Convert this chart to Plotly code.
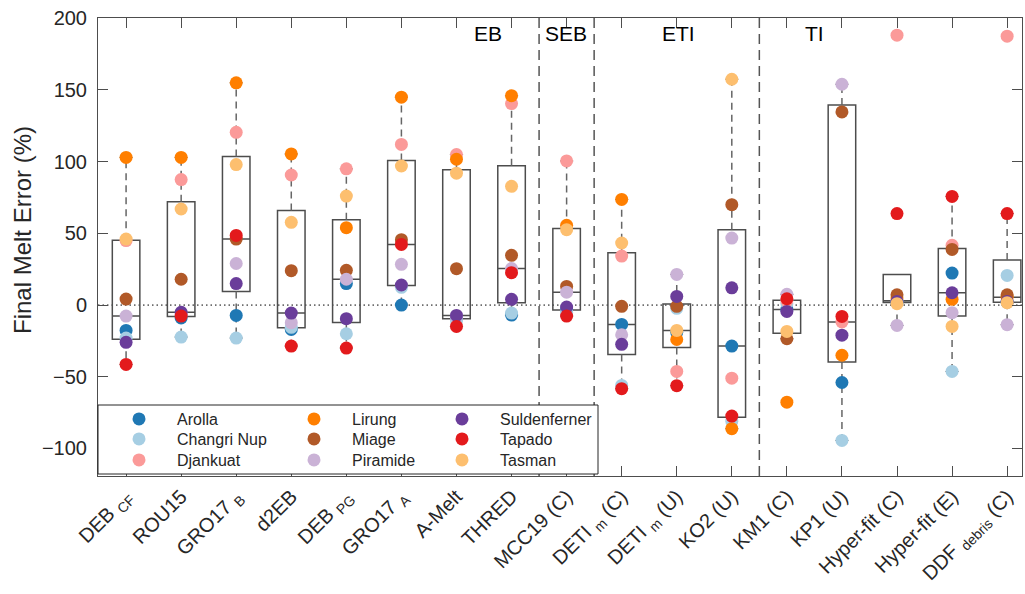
import numpy as np
import plotly.graph_objects as go

# ---------------- data ----------------
models = ["DEB_CF", "ROU15", "GRO17_B", "d2EB", "DEB_PG", "GRO17_A", "A-Melt", "THRED",
          "MCC19 (C)", "DETI_m (C)", "DETI_m (U)", "KO2 (U)", "KM1 (C)", "KP1 (U)",
          "Hyper-fit (C)", "Hyper-fit (E)", "DDF_debris (C)"]
tick_labels = ["DEB <sub>CF</sub>", "ROU15", "GRO17 <sub>B</sub>", "d2EB", "DEB <sub>PG</sub>",
               "GRO17 <sub>A</sub>", "A-Melt", "THRED", "MCC19 (C)", "DETI <sub>m</sub> (C)",
               "DETI <sub>m</sub> (U)", "KO2 (U)", "KM1 (C)", "KP1 (U)", "Hyper-fit (C)",
               "Hyper-fit (E)", "DDF <sub>debris</sub> (C)"]

glaciers = ["Arolla", "Changri Nup", "Djankuat", "Lirung", "Miage", "Piramide",
            "Suldenferner", "Tapado", "Tasman"]
glacier_colors = ["#1f78b4", "#a6cee3", "#fb9a99", "#ff7f00", "#b15928", "#cab2d6",
                  "#6a3d9a", "#e31a1c", "#fdbf6f"]

arolla       = [-17.7, -9.0, -7.2, -17.0, 15.0, 0.0, -9.0, -7.0, -3.0, -13.5, -19.0, -28.6, -3.0, -54.0, 2.0, 22.3, 2.0]
changri_nup  = [-23.0, -22.3, -23.0, -15.5, -20.0, 12.4, -11.0, -5.6, -5.0, -56.0, -2.3, -81.0, 1.0, -94.4, 3.0, -46.3, 20.7]
djankuat     = [45.0, 87.5, 120.5, 90.7, 95.0, 112.0, 105.0, 140.5, 100.5, 34.2, -46.3, -51.0, 3.0, -11.8, 188.2, 41.7, 187.5]
lirung       = [103.0, 103.0, 155.0, 105.4, 54.0, 145.0, 101.7, 146.0, 55.6, 73.7, -24.0, -86.2, -67.7, -35.0, 5.0, 4.0, 5.5]
miage        = [4.2, 18.0, 46.0, 24.0, 24.2, 45.6, 25.4, 34.7, 13.0, -0.9, -0.9, 70.0, -23.5, 134.7, 7.2, 38.8, 7.2]
piramide     = [-7.7, -6.0, 29.0, -12.3, 18.0, 28.4, -8.0, 25.5, 9.0, -20.7, 21.4, 46.7, 7.5, 154.0, -14.2, -5.3, -13.7]
suldenferner = [-26.0, -5.0, 15.0, -5.6, -9.5, 14.0, -7.2, 4.0, -1.4, -27.4, 6.0, 12.0, -4.4, -21.0, 2.5, 8.6, 2.5]
tapado       = [-41.4, -7.7, 48.6, -28.6, -30.0, 42.3, -14.9, 22.6, -7.7, -58.3, -56.2, -77.4, 4.4, -7.9, 63.8, 75.8, 63.8]
tasman       = [46.0, 67.0, 98.0, 57.7, 76.0, 97.0, 92.0, 82.8, 52.6, 43.3, -17.7, 157.5, -18.4, 420.0, 1.0, -14.9, 1.7]

series = [arolla, changri_nup, djankuat, lirung, miage, piramide, suldenferner, tapado, tasman]

group_labels = ["EB", "SEB", "ETI", "TI"]
y_ticks = [-100, -50, 0, 50, 100, 150, 200]
y_title = "Final Melt Error (%)"

# ---------------- layout helpers ----------------
group_label_x = [7.58, 8.98, 11.04, 13.51]
separator_x = [8.5, 9.5, 12.5]
FONT = "Liberation Sans, Arial, sans-serif"
TXT = "#262626"

W, H = 1025, 594
ML, MR, MT, MB = 98, 3, 18, 118
PW, PH = W - ML - MR, H - MT - MB


def px2paper_x(px):
    return (px - ML) / PW


def px2paper_y(py):
    return (H - MB - py) / PH


# MATLAB-style boxplot statistics
def prctile(v, p):
    s = np.sort(np.asarray(v, float))
    n = len(s)
    pos = n * p / 100.0 + 0.5
    if pos < 1:
        return s[0]
    if pos >= n:
        return s[-1]
    i = int(np.floor(pos))
    return s[i - 1] + (pos - i) * (s[i] - s[i - 1])


data = np.array(series)  # glaciers x models
xs = np.arange(1, len(models) + 1)
q1s, meds, q3s, lows, highs = [], [], [], [], []
for j in range(len(models)):
    col = data[:, j]
    q1, md, q3 = prctile(col, 25), prctile(col, 50), prctile(col, 75)
    iqr = q3 - q1
    hi = col[col <= q3 + 1.5 * iqr].max()
    lo = col[col >= q1 - 1.5 * iqr].min()
    q1s.append(q1); meds.append(md); q3s.append(q3)
    lows.append(min(lo, q1)); highs.append(max(hi, q3))

fig = go.Figure()

# boxes
fig.add_trace(go.Box(
    x=xs, q1=q1s, median=meds, q3=q3s, lowerfence=q1s, upperfence=q3s,
    width=0.5, whiskerwidth=0, boxpoints=False,
    line=dict(color="#4d4d4d", width=1.5), fillcolor="rgba(0,0,0,0)",
    showlegend=False, hoverinfo="skip"))

# dashed whiskers and caps
wx, wy, cx, cy = [], [], [], []
for x, q1, q3, lo, hi in zip(xs, q1s, q3s, lows, highs):
    if hi > q3:
        wx += [x, x, None]; wy += [q3, hi, None]
        cx += [x - 0.12, x + 0.12, None]; cy += [hi, hi, None]
    if lo < q1:
        wx += [x, x, None]; wy += [q1, lo, None]
        cx += [x - 0.12, x + 0.12, None]; cy += [lo, lo, None]
fig.add_trace(go.Scatter(x=wx, y=wy, mode="lines", showlegend=False, hoverinfo="skip",
                         line=dict(color="#666666", width=1.5, dash="7px,5px")))
fig.add_trace(go.Scatter(x=cx, y=cy, mode="lines", showlegend=False, hoverinfo="skip",
                         line=dict(color="#666666", width=1)))

# points, one legend per entry placed in a 3x3 grid
col_marker_px = [139, 314, 462]
row_px = [419, 439, 460]
legends = {}
for k, (g, c, vals) in enumerate(zip(glaciers, glacier_colors, series)):
    lid = "legend" if k == 0 else f"legend{k + 1}"
    fig.add_trace(go.Scatter(x=xs, y=vals, mode="markers", name=g, legend=lid,
                             marker=dict(size=13, color=c, line=dict(width=0))))
    colk, rowk = k // 3, k % 3
    legends[lid] = dict(
        x=px2paper_x(col_marker_px[colk] - 38), xanchor="left",
        y=px2paper_y(row_px[rowk]), yanchor="middle",
        bgcolor="rgba(0,0,0,0)", borderwidth=0, itemwidth=66,
        font=dict(family=FONT, size=16, color=TXT))

shapes = [dict(type="line", xref="paper", yref="y", x0=0, x1=1, y0=0, y1=0,
               line=dict(color="#000000", width=1, dash="1.5px,3px"), layer="below")]
for sx in separator_x:
    shapes.append(dict(type="line", xref="x", yref="paper", x0=sx, x1=sx, y0=0, y1=1,
                       line=dict(color="#555555", width=1.5, dash="10px,6px"), layer="above"))
shapes.append(dict(type="rect", xref="paper", yref="paper",
                   x0=0, x1=px2paper_x(598), y0=px2paper_y(474), y1=px2paper_y(405),
                   fillcolor="white", line=dict(color="#262626", width=1), layer="above"))

annotations = [dict(x=gx, y=189.5, xref="x", yref="y", text=t, showarrow=False,
                    font=dict(family=FONT, size=21, color="#000000"))
               for gx, t in zip(group_label_x, group_labels)]
annotations.append(dict(x=px2paper_x(22), y=px2paper_y(230), xref="paper", yref="paper",
                        text=y_title, textangle=-90, showarrow=False,
                        xanchor="center", yanchor="middle",
                        font=dict(family=FONT, size=24, color=TXT)))

fig.update_layout(
    template="none", width=W, height=H,
    margin=dict(l=ML, r=MR, t=MT, b=MB, autoexpand=False),
    paper_bgcolor="white", plot_bgcolor="white",
    font=dict(family=FONT, size=20, color=TXT),
    xaxis=dict(range=[0.49, 17.27], tickmode="array", tickvals=xs, ticktext=tick_labels,
               tickangle=-45, ticks="inside", ticklen=10, tickcolor="#4d4d4d",
               showline=True, linecolor="#4d4d4d", linewidth=1, mirror="ticks",
               showgrid=False, zeroline=False, tickfont=dict(size=20, color=TXT)),
    yaxis=dict(range=[-119.2, 200.2], tickmode="array", tickvals=y_ticks,
               ticks="inside", ticklen=10, tickcolor="#4d4d4d",
               showline=True, linecolor="#4d4d4d", linewidth=1, mirror="ticks",
               showgrid=False, zeroline=False, ticklabelstandoff=6,
               tickfont=dict(size=20, color=TXT)),
    shapes=shapes, annotations=annotations, showlegend=True,
    **legends)

fig.write_html("out.html")
